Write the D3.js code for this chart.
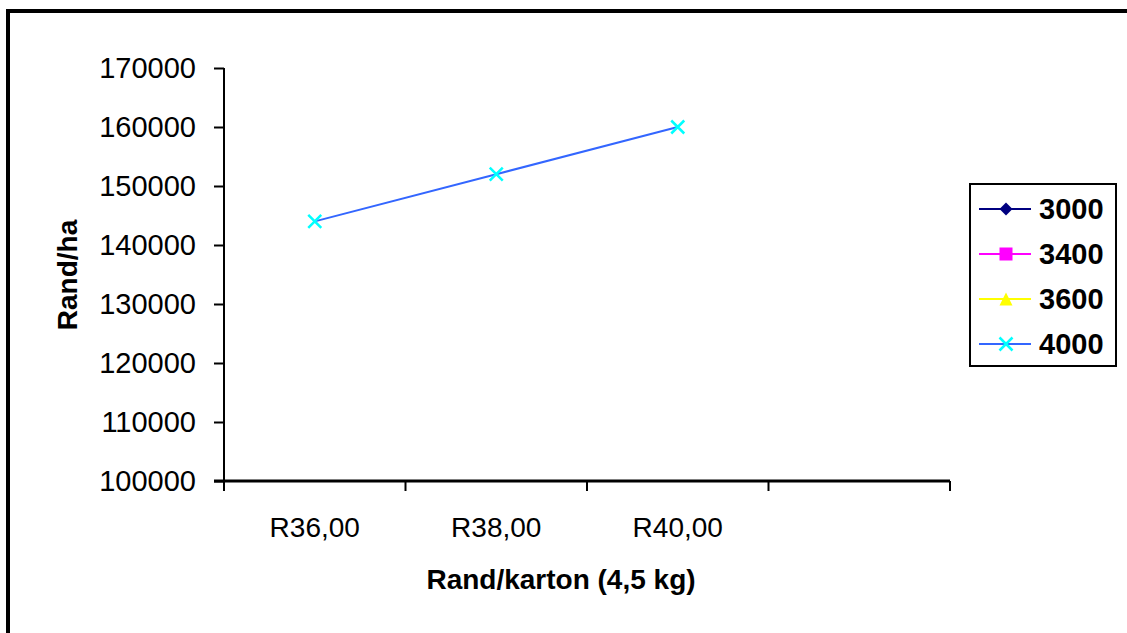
<!DOCTYPE html>
<html>
<head>
<meta charset="utf-8">
<script src="https://cdn.jsdelivr.net/npm/d3@7"></script>
<style>
    body { margin: 0; background: #fff; }
    svg { display: block; font-family: Arial, "Liberation Sans", sans-serif; }
</style>
</head>
<body>
<svg id="chart" width="1127" height="633"></svg>
<script>
// categories on the x axis (last band has no label)
const categories = ['R36,00', 'R38,00', 'R40,00', ''];
const yTicks = [100000, 110000, 120000, 130000, 140000, 150000, 160000, 170000];

// series values per category (null = no point shown)
const seriesNames = ['3000', '3400', '3600', '4000'];
const values3000 = [null, null, null, null];
const values3400 = [null, null, null, null];
const values3600 = [null, null, null, null];
const values4000 = [144000, 152000, 160000, null];

const series = [
    {name: seriesNames[0], values: values3000, line: '#000080', marker: 'diamond', mfill: '#000080'},
    {name: seriesNames[1], values: values3400, line: '#ff00ff', marker: 'square', mfill: '#ff00ff'},
    {name: seriesNames[2], values: values3600, line: '#ffff00', marker: 'triangle', mfill: '#ffff00'},
    {name: seriesNames[3], values: values4000, line: '#3366ff', marker: 'cross', mfill: '#00ffff'}
];

const svg = d3.select('#chart');

// outer frame
svg.append('rect')
    .attr('x', 8).attr('y', 11)
    .attr('width', 1200).attr('height', 700)
    .attr('fill', 'none')
    .attr('stroke', '#000')
    .attr('stroke-width', 4);

const plot = {left: 224, right: 950, top: 68, bottom: 481};

const xScale = d3.scaleBand()
    .domain(categories.map((d, i) => i))
    .range([plot.left, plot.right]);

const yScale = d3.scaleLinear()
    .domain([100000, 170000])
    .range([plot.bottom, plot.top]);

// y axis
const yAxisG = svg.append('g')
    .attr('transform', `translate(${plot.left},0)`)
    .call(d3.axisLeft(yScale).tickValues(yTicks).tickSize(10).tickPadding(18).tickFormat(d3.format('d')));
yAxisG.select('.domain').attr('stroke-width', 2).attr('d', `M-0,${plot.bottom}V${plot.top}`);
yAxisG.selectAll('.tick line').attr('stroke-width', 2);
yAxisG.selectAll('.tick text')
    .style('font-size', '29px')
    .attr('fill', '#000');

// x axis, ticks at band boundaries
const xAxisG = svg.append('g')
    .attr('transform', `translate(0,${plot.bottom})`);
xAxisG.append('line')
    .attr('x1', plot.left - 10).attr('x2', plot.right)
    .attr('stroke', '#000').attr('stroke-width', 3);
const boundaries = categories.map((d, i) => xScale(i)).concat([plot.right]);
xAxisG.selectAll('.xtick')
    .data(boundaries)
    .enter().append('line')
    .attr('x1', d => d).attr('x2', d => d)
    .attr('y1', 0).attr('y2', 10)
    .attr('stroke', '#000').attr('stroke-width', 2);
xAxisG.selectAll('.xlabel')
    .data(categories)
    .enter().append('text')
    .attr('x', (d, i) => xScale(i) + xScale.bandwidth() / 2)
    .attr('y', 56)
    .attr('text-anchor', 'middle')
    .style('font-size', '28px')
    .text(d => d);

// axis titles
svg.append('text')
    .attr('x', (plot.left + plot.right) / 2 - 26)
    .attr('y', 589)
    .attr('text-anchor', 'middle')
    .style('font-size', '28px')
    .style('font-weight', 'bold')
    .text('Rand/karton (4,5 kg)');

svg.append('text')
    .attr('transform', `translate(77, 275) rotate(-90)`)
    .attr('text-anchor', 'middle')
    .style('font-size', '28px')
    .style('font-weight', 'bold')
    .text('Rand/ha');

function drawMarker(g, type, color, size) {
    if (type === 'diamond') {
        const h = size / 2;
        g.append('path').attr('d', `M0,${-h}L${h},0L0,${h}L${-h},0Z`).attr('fill', color);
    } else if (type === 'square') {
        g.append('rect').attr('x', -size / 2).attr('y', -size / 2)
            .attr('width', size).attr('height', size).attr('fill', color);
    } else if (type === 'triangle') {
        g.append('path').attr('d', `M0,${-size / 2}L${size / 2},${size / 2}L${-size / 2},${size / 2}Z`).attr('fill', color);
    } else {
        const h = size / 2;
        g.append('path').attr('d', `M${-h},${-h}L${h},${h}M${-h},${h}L${h},${-h}`)
            .attr('stroke', color).attr('stroke-width', 2.5).attr('fill', 'none');
    }
}

// lines and markers
const line = d3.line()
    .defined(d => d.v !== null)
    .x(d => xScale(d.i) + xScale.bandwidth() / 2)
    .y(d => yScale(d.v));

series.forEach(function (s) {
    const pts = s.values.map((v, i) => ({i: i, v: v}));
    svg.append('path')
        .datum(pts)
        .attr('d', line)
        .attr('fill', 'none')
        .attr('stroke', s.line)
        .attr('stroke-width', 2);
    pts.filter(d => d.v !== null).forEach(function (d) {
        const g = svg.append('g')
            .attr('transform', `translate(${xScale(d.i) + xScale.bandwidth() / 2},${yScale(d.v)})`);
        drawMarker(g, s.marker, s.mfill, 13);
    });
});

// legend
const legendG = svg.append('g').attr('transform', 'translate(970,184)');
legendG.append('rect')
    .attr('width', 146).attr('height', 182)
    .attr('fill', '#fff').attr('stroke', '#000').attr('stroke-width', 2);

series.forEach(function (s, i) {
    const cy = 25 + i * 45;
    legendG.append('line')
        .attr('x1', 9).attr('x2', 61)
        .attr('y1', cy).attr('y2', cy)
        .attr('stroke', s.line).attr('stroke-width', 2);
    const g = legendG.append('g').attr('transform', `translate(36,${cy})`);
    drawMarker(g, s.marker, s.mfill, 13);
    legendG.append('text')
        .attr('x', 69).attr('y', cy + 10)
        .style('font-size', '29px')
        .style('font-weight', 'bold')
        .text(s.name);
});
</script>
</body>
</html>
